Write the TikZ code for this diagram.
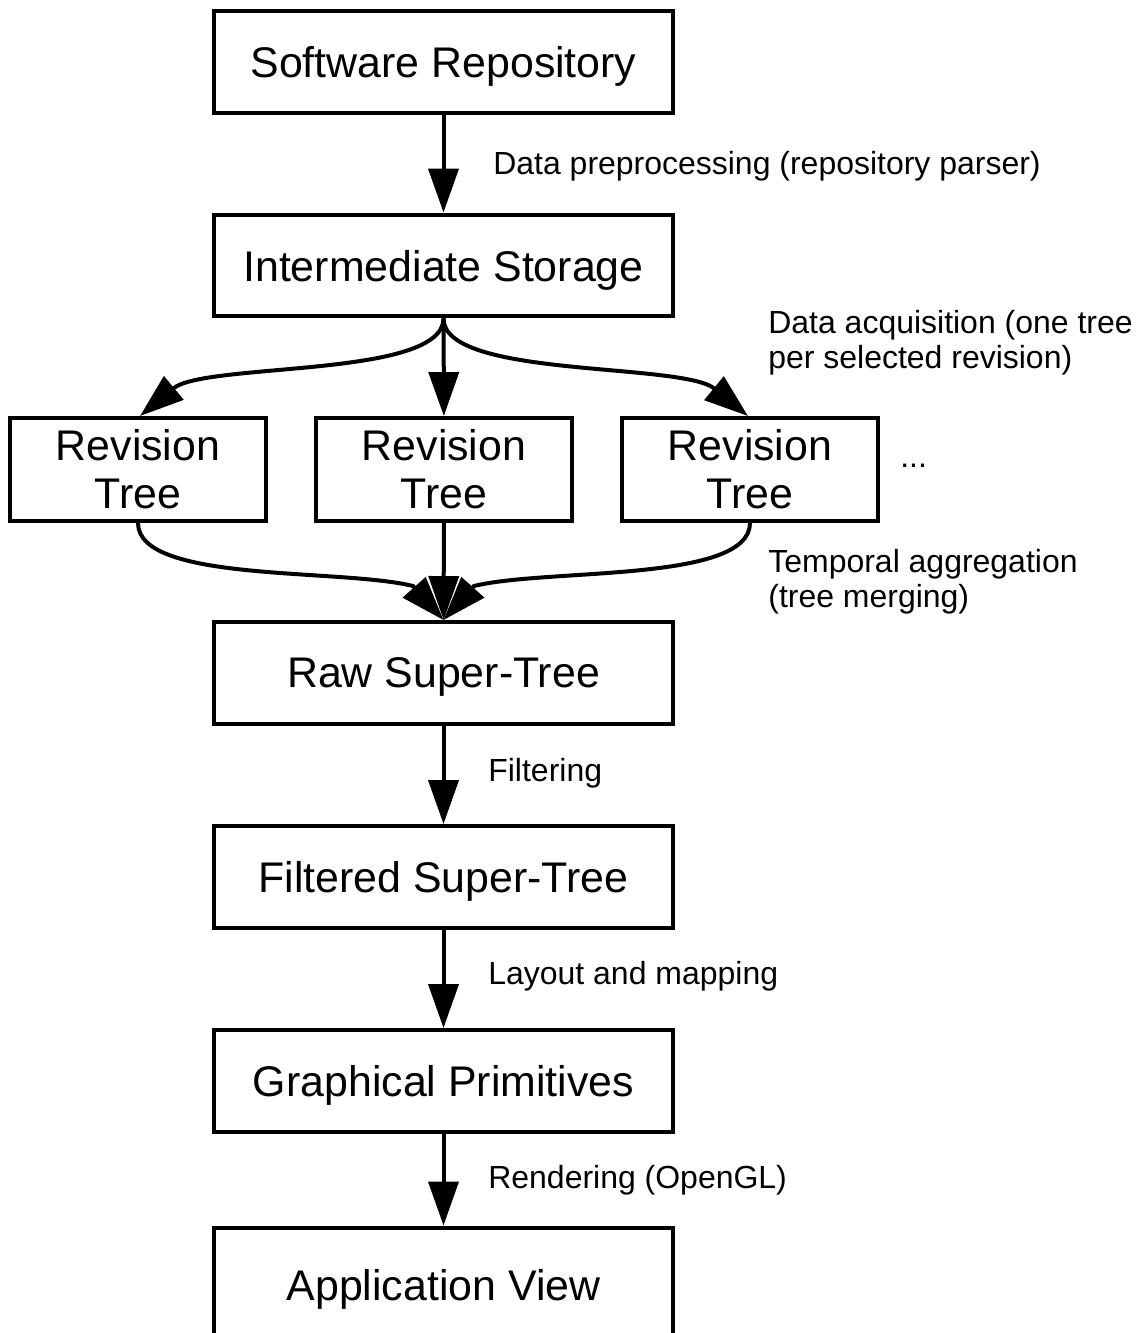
\documentclass[tikz,border=0pt]{standalone}
\usepackage{fontspec}
\setmainfont{Liberation Sans}
\usetikzlibrary{arrows.meta}

\begin{document}
\begin{tikzpicture}[x=0.02cm, y=-0.02cm,
  box/.style={draw, line width=0.08cm, minimum width=9.18cm, minimum height=2.04cm,
    inner sep=0pt, text depth=0pt, font=\fontsize{24.4}{27.3}\selectfont},
  revbox/.style={draw, line width=0.08cm, minimum width=5.12cm, minimum height=2.06cm,
    inner sep=0pt, align=center, font=\fontsize{24.4}{27.3}\selectfont},
  steplabel/.style={anchor=west, inner sep=0pt, align=left, font=\fontsize{18.2}{19.9}\selectfont},
  arr/.style={-{Triangle[length=0.88cm, width=0.6cm]}, line width=0.08cm}]
\useasboundingbox (0,0) rectangle (1145,1333);
%% ---- pipeline boxes ----
\node[box] (repo)  at (443.5,62)    {Software Repository};
\node[box] (store) at (443.5,265.5) {Intermediate Storage};
\node[revbox] (rev1) at (138,469.5) {Revision\\Tree};
\node[revbox] (rev2) at (444,469.5) {Revision\\Tree};
\node[revbox] (rev3) at (750,469.5) {Revision\\Tree};
\node[box] (raw)   at (443.5,673)   {Raw Super-Tree};
\node[box] (filt)  at (443.5,877)   {Filtered Super-Tree};
\node[box] (prim)  at (443.5,1081)  {Graphical Primitives};
\node[box, minimum height=2.3cm] (view) at (443.5,1285) {Application View};
%% ---- step labels ----
\node[steplabel] (lprep) at (493,166) {Data preprocessing (repository parser)};
\node[steplabel] (lacq)  at (768,343) {Data acquisition (one tree\\per selected revision)};
\node[steplabel] (ldots) at (900,466) {...};
\node[steplabel] (lagg)  at (768,582) {Temporal aggregation\\(tree merging)};
\node[steplabel] (lfilt) at (488,773) {Filtering};
\node[steplabel] (llay)  at (488,976) {Layout and mapping};
\node[steplabel] (lrend) at (488,1180) {Rendering (OpenGL)};
%% ---- bends of the merging arrows ----
\coordinate (mergeL) at (413,586);
\coordinate (mergeR) at (474,586);
%% ---- arrows ----
\draw[arr] (repo) -- (store);
\draw[arr] (store.south) .. controls +(0,60) and (205,362) .. ([xshift=0.04cm]rev1.north);
\draw[arr] (store) -- (rev2);
\draw[arr] (store.south) .. controls +(0,60) and (682,362) .. ([xshift=-0.04cm]rev3.north);
\draw[arr] (rev1.south) .. controls +(0,60) and (340,568) .. (mergeL) -- (raw.north);
\draw[arr] (rev2) -- (raw);
\draw[arr] (rev3.south) .. controls +(0,60) and (547,568) .. (mergeR) -- (raw.north);
\draw[arr] (raw) -- (filt);
\draw[arr] (filt) -- (prim);
\draw[arr] (prim) -- (view);
\end{tikzpicture}
\end{document}
